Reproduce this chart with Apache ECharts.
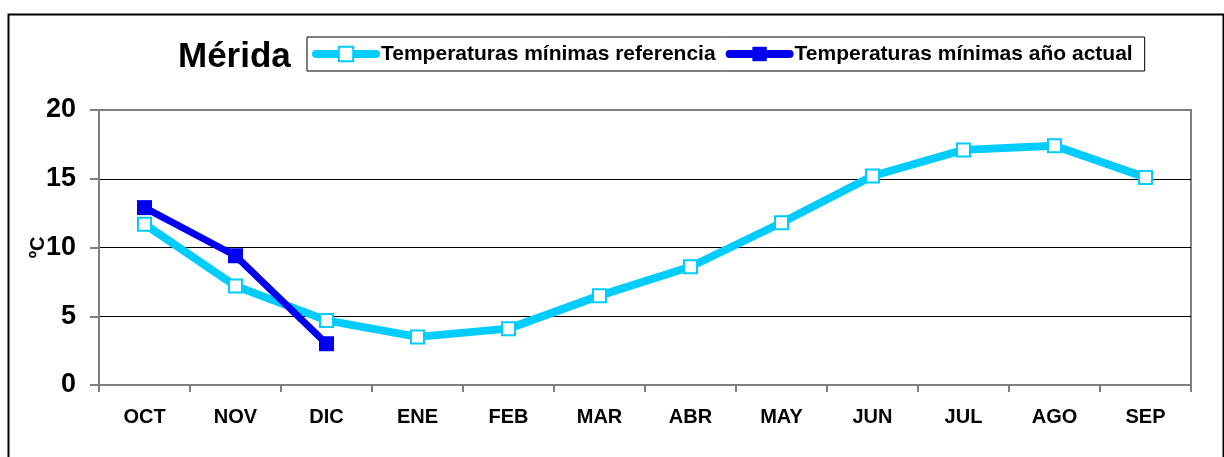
<!DOCTYPE html>
<html>
<head>
<meta charset="utf-8">
<script src="https://cdn.jsdelivr.net/npm/echarts@6/dist/echarts.min.js"></script>
<style>
html,body{margin:0;padding:0;background:#fff;}
#c{width:1224px;height:457px;}
</style>
</head>
<body>
<div id="c"></div>
<script>
var categories = ['OCT','NOV','DIC','ENE','FEB','MAR','ABR','MAY','JUN','JUL','AGO','SEP'];
var referencia = [11.7, 7.2, 4.7, 3.5, 4.1, 6.5, 8.6, 11.8, 15.2, 17.1, 17.4, 15.1];
var actual = [12.9, 9.4, 3.0, null, null, null, null, null, null, null, null, null];
var seriesNames = ['Temperaturas mínimas referencia', 'Temperaturas mínimas año actual'];
var titleText = 'Mérida';
var yName = 'ºC';

var FONT = '"Liberation Sans", Arial, sans-serif';
var CYAN = '#00CCFF', BLUE = '#0000EE';
var chart = echarts.init(document.getElementById('c'), null, {renderer: 'canvas'});
chart.setOption({
  animation: false,
  backgroundColor: '#fff',
  title: {
    text: titleText, left: 178, top: 38, padding: 0,
    textStyle: {fontFamily: FONT, fontSize: 35, fontWeight: 'bold', color: '#000', lineHeight: 38}
  },
  legend: {
    left: 307, top: 37, padding: [6, 12, 6, 5],
    borderColor: '#000', borderWidth: 1, itemGap: 10,
    itemWidth: 60, itemHeight: 18,
    textStyle: {fontFamily: FONT, fontSize: 21, fontWeight: 'bold', color: '#000', lineHeight: 22},
    data: [
      {name: seriesNames[0], lineStyle: {width: 8, color: CYAN, cap: 'round'}, itemStyle: {color: '#fff', borderColor: CYAN, borderWidth: 2}},
      {name: seriesNames[1], lineStyle: {width: 8, color: BLUE, cap: 'round'}, itemStyle: {color: BLUE, borderWidth: 0}}
    ]
  },
  graphic: [{
    type: 'rect', left: 6, top: 12, silent: true,
    shape: {width: 1215, height: 470},
    style: {fill: 'none', stroke: '#000', lineWidth: 2}
  }],
  grid: {left: 99, right: 33, top: 110, bottom: 72, show: true, borderColor: '#808080', borderWidth: 2, backgroundColor: 'transparent'},
  xAxis: {
    type: 'category', data: categories, boundaryGap: true,
    axisLine: {lineStyle: {color: '#808080', width: 2}},
    axisTick: {show: true, interval: 0, length: 7, lineStyle: {color: '#808080', width: 2}},
    axisLabel: {interval: 0, margin: 22, fontFamily: FONT, fontSize: 20, fontWeight: 'bold', color: '#000'}
  },
  yAxis: {
    type: 'value', min: 0, max: 20, interval: 5,
    name: yName, nameLocation: 'middle', nameRotate: 90, nameGap: 51, nameMoveOverlap: false,
    nameTextStyle: {fontFamily: FONT, fontSize: 20, fontWeight: 'bold', color: '#000'},
    axisLine: {show: true, lineStyle: {color: '#808080', width: 2}},
    axisTick: {show: true, length: 9, lineStyle: {color: '#808080', width: 2}},
    axisLabel: {margin: 23, fontFamily: FONT, fontSize: 27, fontWeight: 'bold', color: '#000'},
    splitLine: {show: true, lineStyle: {color: ['#808080', '#000', '#000', '#000', '#808080'], width: 1}}
  },
  series: [{
    name: seriesNames[0], type: 'line', data: referencia,
    symbol: 'rect', symbolSize: 13,
    lineStyle: {color: CYAN, width: 8},
    itemStyle: {color: '#fff', borderColor: CYAN, borderWidth: 2},
    emphasis: {disabled: true}
  }, {
    name: seriesNames[1], type: 'line', data: actual,
    symbol: 'rect', symbolSize: 15,
    lineStyle: {color: BLUE, width: 7},
    itemStyle: {color: BLUE},
    emphasis: {disabled: true}
  }]
});
</script>
</body>
</html>
